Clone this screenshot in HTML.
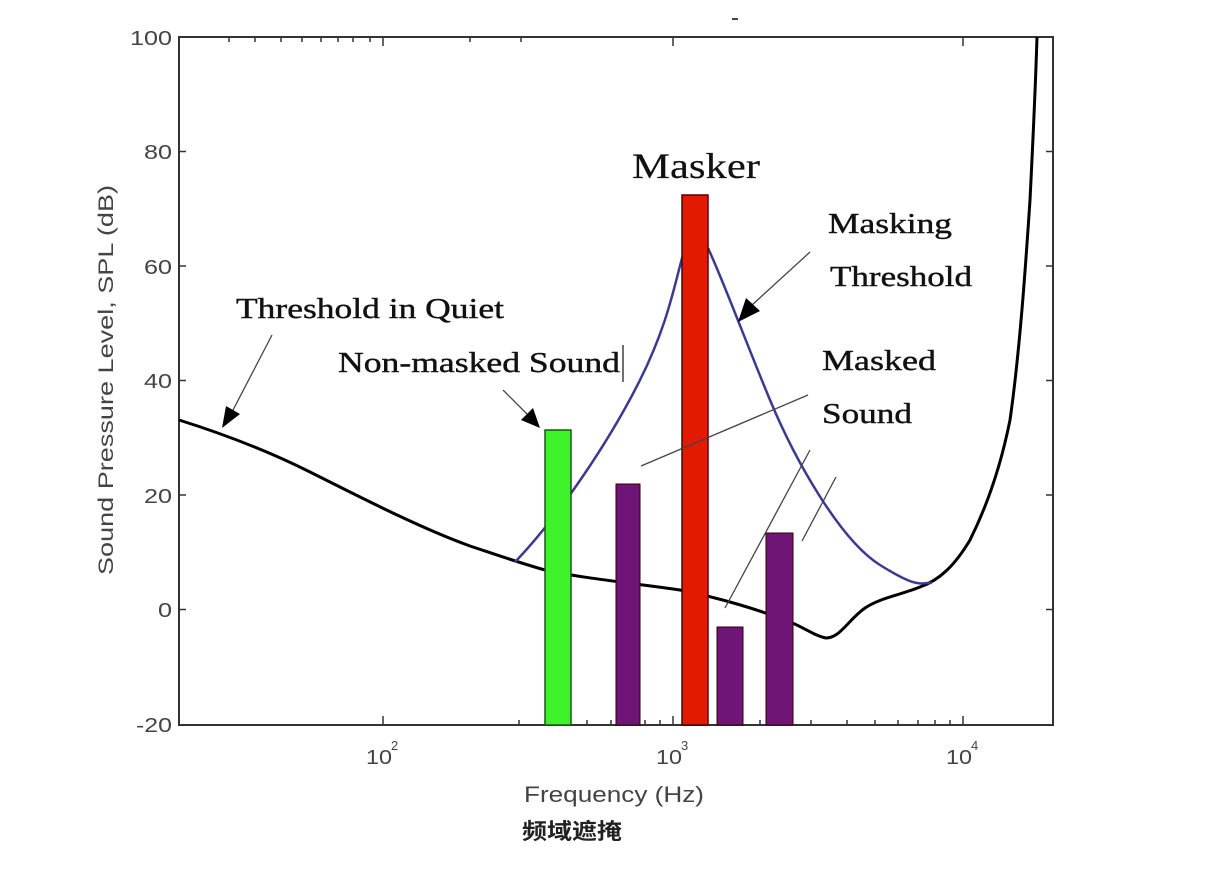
<!DOCTYPE html>
<html><head><meta charset="utf-8"><style>
body{margin:0;background:#fff;}
svg{display:block}
.t{font-family:"Liberation Serif",serif;fill:#111;stroke:#111;stroke-width:0.4}
.a{font-family:"Liberation Sans",sans-serif;fill:#444;font-size:20px}
</style></head><body>
<svg width="1209" height="880" viewBox="0 0 1209 880" xmlns="http://www.w3.org/2000/svg">
<rect x="179" y="37" width="874" height="688" fill="#fff" stroke="#333" stroke-width="2"/>
<g stroke="#333" stroke-width="1.5">
<line x1="179" y1="151.5" x2="186" y2="151.5"/><line x1="179" y1="266" x2="186" y2="266"/><line x1="179" y1="380.5" x2="186" y2="380.5"/><line x1="179" y1="495" x2="186" y2="495"/><line x1="179" y1="609.5" x2="186" y2="609.5"/>
<line x1="1053" y1="151.5" x2="1046" y2="151.5"/><line x1="1053" y1="266" x2="1046" y2="266"/><line x1="1053" y1="380.5" x2="1046" y2="380.5"/><line x1="1053" y1="495" x2="1046" y2="495"/><line x1="1053" y1="609.5" x2="1046" y2="609.5"/>
<line x1="383" y1="37" x2="383" y2="46"/><line x1="673" y1="37" x2="673" y2="46"/><line x1="963" y1="37" x2="963" y2="46"/>
<line x1="383" y1="725" x2="383" y2="716"/><line x1="673" y1="725" x2="673" y2="716"/><line x1="963" y1="725" x2="963" y2="716"/>
<line x1="229" y1="37" x2="229" y2="42"/><line x1="255" y1="37" x2="255" y2="42"/><line x1="281" y1="37" x2="281" y2="42"/><line x1="302" y1="37" x2="302" y2="42"/><line x1="321" y1="37" x2="321" y2="42"/><line x1="338" y1="37" x2="338" y2="42"/><line x1="353" y1="37" x2="353" y2="42"/><line x1="370" y1="37" x2="370" y2="42"/>
<line x1="470" y1="37" x2="470" y2="42"/><line x1="521" y1="37" x2="521" y2="42"/>
<line x1="519" y1="725" x2="519" y2="720"/><line x1="557" y1="725" x2="557" y2="720"/><line x1="587" y1="725" x2="587" y2="720"/><line x1="611" y1="725" x2="611" y2="720"/><line x1="630" y1="725" x2="630" y2="720"/><line x1="645" y1="725" x2="645" y2="720"/><line x1="660" y1="725" x2="660" y2="720"/>
<line x1="760" y1="725" x2="760" y2="720"/><line x1="811" y1="725" x2="811" y2="720"/><line x1="847" y1="725" x2="847" y2="720"/><line x1="875" y1="725" x2="875" y2="720"/><line x1="898" y1="725" x2="898" y2="720"/><line x1="918" y1="725" x2="918" y2="720"/><line x1="935" y1="725" x2="935" y2="720"/><line x1="950" y1="725" x2="950" y2="720"/>
</g>
<g class="a" text-anchor="end">
<text x="172" y="45" textLength="42" lengthAdjust="spacingAndGlyphs">100</text><text x="172" y="159" textLength="28" lengthAdjust="spacingAndGlyphs">80</text><text x="172" y="274" textLength="28" lengthAdjust="spacingAndGlyphs">60</text><text x="172" y="388" textLength="28" lengthAdjust="spacingAndGlyphs">40</text><text x="172" y="503" textLength="28" lengthAdjust="spacingAndGlyphs">20</text><text x="172" y="617" textLength="14" lengthAdjust="spacingAndGlyphs">0</text><text x="172" y="732" textLength="36" lengthAdjust="spacingAndGlyphs">-20</text>
</g>
<g class="a"><text x="366" y="764" textLength="26" lengthAdjust="spacingAndGlyphs">10</text><text x="391" y="750" font-size="13">2</text>
<text x="656" y="764" textLength="26" lengthAdjust="spacingAndGlyphs">10</text><text x="681" y="750" font-size="13">3</text>
<text x="946" y="764" textLength="26" lengthAdjust="spacingAndGlyphs">10</text><text x="971" y="750" font-size="13">4</text>
<text x="524" y="802" font-size="22" textLength="180" lengthAdjust="spacingAndGlyphs">Frequency (Hz)</text>
<text transform="translate(113,380) rotate(-90)" text-anchor="middle" font-size="21" textLength="390" lengthAdjust="spacingAndGlyphs">Sound Pressure Level, SPL (dB)</text></g>
<text x="522" y="839" font-family="'Noto Sans CJK SC',sans-serif" font-size="22" font-weight="bold" fill="#222" textLength="100" lengthAdjust="spacingAndGlyphs">频域遮掩</text>
<path d="M179,420 C230,436 270,452 310,472 C360,497 420,528 470,546 C500,556 520,563 545,570 C580,578 640,584 680,590 C720,598 760,610 790,622 C805,628 815,636 826,638 C840,638 848,620 865,608 C880,598 900,595 920,587 C940,580 955,565 970,540 C985,510 1000,470 1010,420 C1020,350 1026,260 1030,200 C1034,120 1036,70 1037,37" fill="none" stroke="#000" stroke-width="3"/>
<path d="M515,562 C560,515 610,440 640,380 S675,280 685,248" fill="none" stroke="#3a3a90" stroke-width="2.5"/>
<path d="M708,248 C725,285 745,340 770,400 S840,540 880,565 S920,582 932,583" fill="none" stroke="#3a3a90" stroke-width="2.5"/>
<rect x="545" y="430" width="26" height="295" fill="#3ef22a" stroke="#155a10" stroke-width="1.5"/>
<rect x="616" y="484" width="24" height="241" fill="#6f1578" stroke="#300"/>
<rect x="682" y="195" width="26" height="530" fill="#e21a00" stroke="#500" stroke-width="1.5"/>
<rect x="717" y="627" width="26" height="98" fill="#6f1578" stroke="#300"/>
<rect x="766" y="533" width="27" height="192" fill="#6f1578" stroke="#300"/>
<g stroke="#444" stroke-width="1.3" fill="none">
<line x1="272" y1="335" x2="232" y2="412"/>
<line x1="503" y1="390" x2="528" y2="415"/>
<line x1="810" y1="252" x2="752" y2="305"/>
<line x1="808" y1="395" x2="641" y2="466"/>
<line x1="810" y1="450" x2="725" y2="608"/>
<line x1="836" y1="477" x2="802" y2="541"/>
</g>
<g fill="#000">
<polygon points="222,428 226,406 240,414"/>
<polygon points="540,428 521,420 533,408"/>
<polygon points="738,322 746,298 760,311"/>
</g>
<line x1="623" y1="345" x2="623" y2="382" stroke="#222" stroke-width="1.3"/>
<g class="t">
<text x="632" y="178" font-size="36" stroke-width="0.2" textLength="128" lengthAdjust="spacingAndGlyphs">Masker</text>
<text x="236" y="318" font-size="28" textLength="268" lengthAdjust="spacingAndGlyphs">Threshold in Quiet</text>
<text x="338" y="372" font-size="28" textLength="282" lengthAdjust="spacingAndGlyphs">Non-masked Sound</text>
<text x="828" y="233" font-size="28" textLength="124" lengthAdjust="spacingAndGlyphs">Masking</text>
<text x="830" y="286" font-size="28" textLength="142" lengthAdjust="spacingAndGlyphs">Threshold</text>
<text x="822" y="370" font-size="28" textLength="114" lengthAdjust="spacingAndGlyphs">Masked</text>
<text x="822" y="423" font-size="28" textLength="90" lengthAdjust="spacingAndGlyphs">Sound</text>
</g>
<line x1="732" y1="19" x2="738" y2="19" stroke="#444" stroke-width="2"/>
</svg>
</body></html>
